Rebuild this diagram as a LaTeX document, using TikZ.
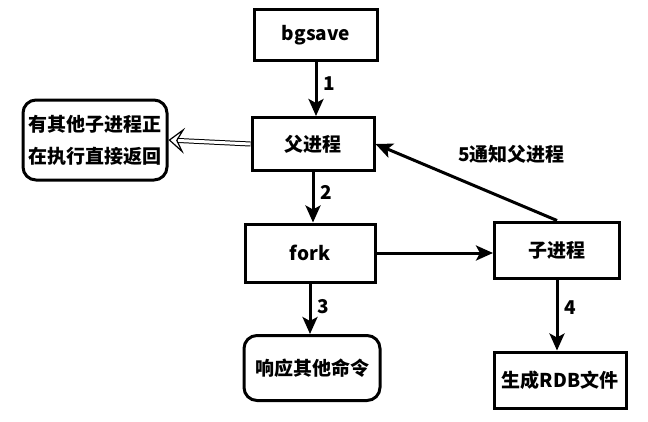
\documentclass[tikz,border=0pt]{standalone}
\usepackage{fontspec}
\setmainfont{Noto Sans CJK SC}
\usetikzlibrary{arrows, arrows.meta}

\begin{document}
\begin{tikzpicture}[x=1pt,y=-1pt,->,>={Stealth[length=17pt,width=15pt,inset=4pt]},
                    line width=3pt,font=\bfseries\fontsize{19}{23}\selectfont]
  \tikzstyle{box}=[draw,rectangle,inner sep=2pt]
  \tikzstyle{rbox}=[draw,rectangle,rounded corners=13pt,inner sep=2pt,align=center]
  \tikzstyle{hollow}=[double,double distance=3pt,line width=1pt,
                      -{Stealth[open,length=16pt,width=26pt,inset=7pt,line width=1.2pt]}]

  \useasboundingbox (0,0) rectangle (648,421);

  \node[box, minimum width=123pt, minimum height=51pt] (bgsave) at (316,35)  {bgsave};
  \node[box, minimum width=122pt, minimum height=53pt] (parent) at (313,144) {父进程};
  \node[rbox, minimum width=144pt, minimum height=80pt] (busy) at (95,140)
        {有其他子进程正\\[9pt]在执行直接返回};
  \node[box, minimum width=130pt, minimum height=58pt] (fork)   at (310,253) {fork};
  \node[box, minimum width=125pt, minimum height=56pt] (child)  at (557,250) {子进程};
  \node[rbox, minimum width=136pt, minimum height=65pt] (reply) at (312,368) {响应其他命令};
  \node[box, minimum width=132pt, minimum height=56pt] (rdb)    at (560,380) {生成RDB文件};

  \path (bgsave.south) edge node[right=3pt, pos=0.4] {1} (bgsave.south |- parent.north)
        (parent.south) edge node[right=3pt, pos=0.4] {2} (parent.south |- fork.north)
        (parent.west)  edge [hollow] (busy.east)
        (fork.east)    edge (fork.east -| child.west)
        (fork.south)   edge node[right=3pt, pos=0.45] {3} (fork.south |- reply.north)
        (child.south)  edge node[right=3pt, pos=0.4] {4} (child.south |- rdb.north)
        (child.north)  edge node[pos=0.25, above=33pt] {5通知父进程} (parent.east);
\end{tikzpicture}
\end{document}
